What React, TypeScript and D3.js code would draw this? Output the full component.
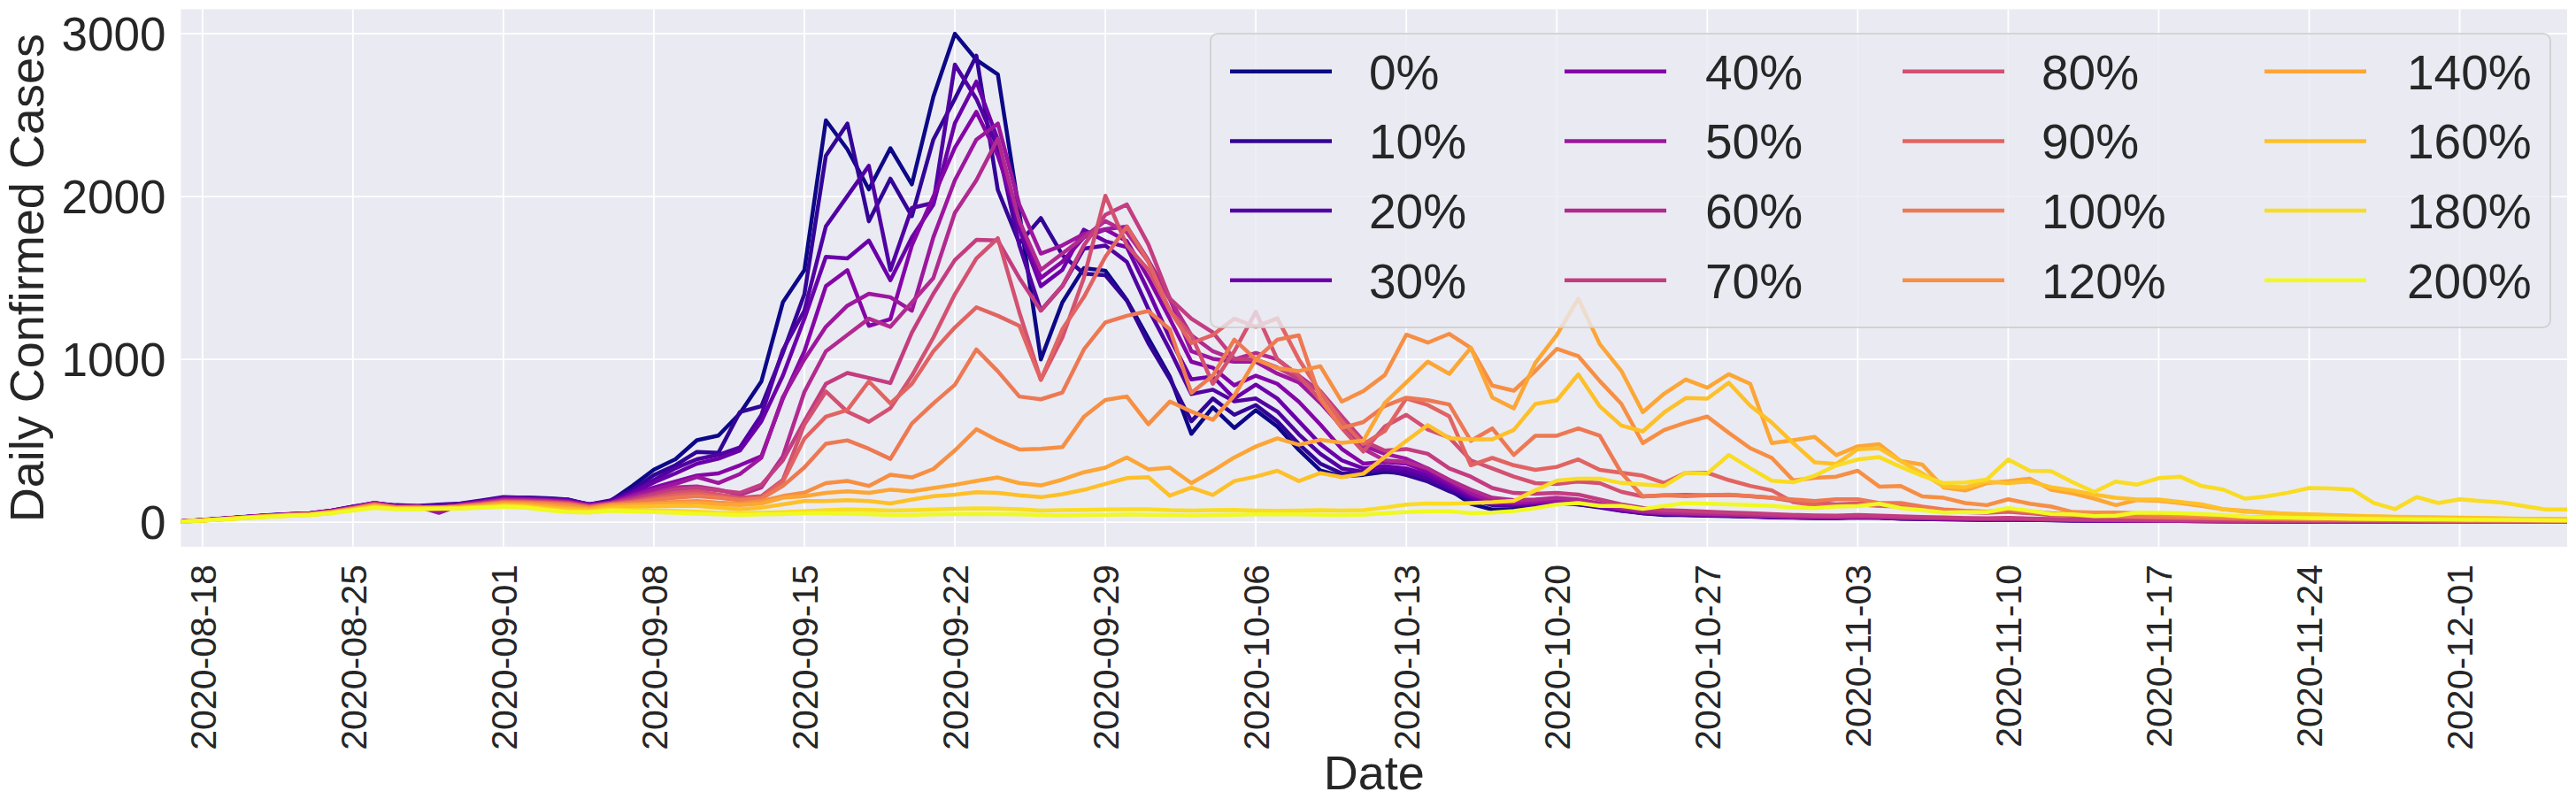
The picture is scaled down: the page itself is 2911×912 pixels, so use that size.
import * as d3 from 'd3';

// weekly date ticks on the x axis
const tickDates = [
  '2020-08-18', '2020-08-25', '2020-09-01', '2020-09-08', '2020-09-15', '2020-09-22',
  '2020-09-29', '2020-10-06', '2020-10-13', '2020-10-20', '2020-10-27', '2020-11-03',
  '2020-11-10', '2020-11-17', '2020-11-24', '2020-12-01',
];
const yTicks = [0, 1000, 2000, 3000];
const labels = ['0%', '10%', '20%', '30%', '40%', '50%', '60%', '70%', '80%', '90%', '100%', '120%', '140%', '160%', '180%', '200%'];

// daily confirmed cases, 2020-08-17 .. 2020-12-06
const s0 = [5,12,22,32,40,46,50,68,92,112, 100,95,105,110,125,150,152,148,140,105, 132,223,323,387,504,532,668,865,1351,1548, 2468,2290,2044,2297,2075,2613,3000,2840,2750,1900, 1000,1350,1560,1545,1365,1130,895,543,706,579, 688,588,444,318,282,291,309,300,264,200, 114,78,80,100,115,110,95,75,55,45, 45,40,38,35,30,28,25,25,30,28, 22,20,18,16,15,17,14,12,10,10, 9,9,8,8,7,6,6,5,5,5, 5,4,4,4,3,3,3,3,3,2, 2,2];
const s10 = [5,13,23,33,42,48,54,70,95,115, 105,100,108,115,135,155,150,145,138,110, 135,200,290,350,432,426,677,713,1040,1400, 2251,2448,1848,2110,1879,2350,2600,2865,2040,1713, 1868,1641,1527,1517,1361,1100,880,620,760,660, 720,620,480,360,300,300,320,290,250,190, 140,105,100,110,120,110,90,70,55,48, 45,42,40,36,32,30,28,27,30,28, 23,21,19,17,16,18,15,13,11,10, 10,9,9,8,7,7,6,6,5,5, 5,5,4,4,4,3,3,3,3,3, 2,2];
const s20 = [5,14,24,34,43,50,56,72,96,118, 102,98,105,112,130,150,148,142,135,110, 128,187,260,332,387,414,459,659,1058,1300, 1817,2003,2189,1548,1930,1961,2810,2600,2300,1700, 1300,1450,1680,1699,1599,1310,1058,787,814,742, 760,680,540,420,330,310,330,310,270,210, 150,110,105,112,125,115,95,72,58,50, 46,43,40,37,33,30,29,28,31,28, 24,22,20,18,16,18,15,13,12,11, 10,10,9,8,8,7,7,6,6,5, 5,5,5,4,4,4,3,3,3,3, 3,2];
const s30 = [5,13,23,33,42,49,55,70,94,116, 100,97,103,110,128,148,146,140,134,108, 125,180,245,300,360,390,440,620,900,1250, 1630,1620,1730,1486,1750,1950,2450,2706,2350,1800, 1450,1550,1796,1726,1690,1419,1130,877,895,760, 845,760,620,480,380,330,345,330,290,225, 160,115,110,118,128,118,98,75,60,52, 48,45,42,38,34,31,30,29,32,29, 25,23,21,19,17,19,16,14,12,11, 10,10,9,9,8,7,7,6,6,6, 5,5,5,4,4,4,4,3,3,3, 3,3];
const s40 = [5,13,23,32,41,48,54,70,92,120, 98,100,70,108,125,145,143,138,130,105, 122,170,214,250,287,300,350,405,759,1050, 1450,1548,1206,1248,1700,2000,2300,2520,2250,1850, 1500,1600,1750,1798,1726,1500,1250,986,949,841, 900,850,740,600,450,360,370,360,310,240, 170,120,115,122,132,122,100,78,62,54, 50,46,43,39,35,32,31,30,33,30, 26,24,22,20,18,20,17,15,13,12, 11,10,10,9,8,8,7,7,6,6, 6,5,5,5,4,4,4,4,3,3, 3,3];
const s50 = [5,13,22,31,40,47,53,68,90,118, 96,98,58,106,122,140,138,134,126,102, 120,160,200,235,278,241,296,396,768,1000, 1200,1330,1403,1382,1299,1750,2100,2350,2448,1950, 1650,1700,1770,1800,1816,1608,1374,1050,1004,986, 986,913,859,733,588,470,420,390,330,255, 180,130,120,128,138,128,105,82,65,56, 52,48,45,41,37,34,32,31,34,31, 27,25,23,21,19,21,18,16,14,13, 12,11,10,10,9,8,8,7,7,6, 6,6,5,5,5,4,4,4,4,3, 3,3];
const s60 = [5,12,22,31,40,47,52,66,88,115, 95,96,80,104,118,135,134,130,122,100, 118,150,180,214,220,200,169,214,405,800, 1050,1150,1250,1200,1350,1500,1900,2100,2355,1850, 1550,1650,1750,1850,1780,1600,1370,1148,1050,1000, 1040,1000,900,800,620,450,380,370,330,260, 200,150,135,140,150,140,115,90,72,62, 58,53,50,45,41,37,35,34,37,34, 30,27,25,23,21,23,20,17,15,14, 13,12,11,10,10,9,8,8,7,7, 6,6,6,5,5,5,4,4,4,4, 3,3];
const s70 = [5,12,21,30,39,46,52,66,88,112, 94,95,85,102,115,132,130,126,118,98, 115,140,170,200,210,195,180,230,380,620, 850,917,886,855,1165,1403,1610,1734,1730,1500, 1300,1450,1700,1888,1951,1707,1374,1250,1166,1004, 1000,950,880,805,650,500,440,450,420,330, 280,210,180,175,180,170,140,110,88,75, 70,65,60,55,50,45,42,40,44,40, 36,32,29,26,24,27,23,20,18,16, 15,14,13,12,11,10,9,9,8,8, 7,7,6,6,6,5,5,5,4,4, 4,4];
const s80 = [5,12,21,30,38,45,50,64,86,110, 92,93,88,100,112,128,126,122,115,95, 112,130,155,180,190,170,150,160,260,600, 803,679,617,700,900,1134,1400,1620,1744,1289, 875,1134,1500,2005,1700,1550,1300,1150,850,1050, 1292,1000,900,750,579,434,588,660,570,520, 380,330,280,240,235,250,240,187,159,165, 168,165,168,160,150,130,120,110,115,108, 95,80,70,62,58,65,55,45,40,36, 33,30,28,26,24,22,20,18,16,15, 14,13,12,11,10,9,8,8,7,7, 6,6];
const s90 = [5,12,21,29,38,45,50,64,85,108, 92,92,90,98,110,125,123,118,112,92, 110,125,145,165,175,160,140,150,250,513, 648,689,865,730,850,1050,1196,1320,1268,1206, 875,1185,1382,1630,1816,1600,1300,1100,1150,1250, 1200,1253,1000,800,620,480,560,760,720,650, 350,395,350,322,340,386,322,304,286,241, 304,304,259,223,196,123,105,100,110,100, 98,85,75,68,62,70,60,50,44,40, 36,33,30,28,26,24,22,20,18,17, 16,15,14,13,12,11,10,9,8,8, 7,7];
const s100 = [5,12,20,29,37,44,50,63,84,106, 90,90,92,96,108,122,120,115,108,90, 108,120,135,150,160,150,135,145,223,337, 482,503,451,389,606,730,844,1061,927,772, 755,797,1061,1227,1268,1297,1184,795,900,1121, 1000,1121,1148,759,579,615,714,765,750,723, 500,576,413,531,531,576,531,304,159,165, 160,165,170,160,150,140,130,141,141,118, 118,96,78,70,65,78,66,55,48,42, 38,35,32,30,28,26,24,22,20,18, 17,16,15,14,13,12,11,10,9,9, 8,8];
const s120 = [4,11,20,28,36,43,48,62,82,104, 88,88,90,95,105,118,115,110,100,85, 104,110,118,125,130,120,114,130,161,182, 240,254,223,292,275,327,441,571,503,447, 451,461,648,751,772,602,741,680,629,778, 1000,946,928,958,741,805,904,1152,1103,1157, 1071,839,808,929,1065,1020,867,728,486,567, 612,649,549,455,395,257,273,280,316,219, 222,159,150,118,105,141,114,96,63,60, 60,55,50,45,40,36,33,30,28,26, 24,22,20,19,18,17,16,15,14,13, 12,12];
const s140 = [4,11,19,28,36,42,48,60,80,100, 86,86,88,92,100,112,108,100,90,80, 100,105,110,115,118,110,105,115,150,160, 180,190,180,200,190,210,230,254,275,240, 226,262,307,335,398,325,335,240,316,398, 465,515,476,506,488,501,732,859,986,911, 1071,766,699,978,1150,1373,1094,930,676,790, 877,826,909,850,486,504,524,412,466,479, 376,354,213,195,240,253,268,199,177,145, 105,136,132,118,100,80,70,60,52,46, 42,38,35,32,30,28,26,24,22,20, 19,18];
const s160 = [4,11,19,27,35,41,46,58,78,96, 84,84,85,88,95,105,100,90,80,72, 90,95,98,100,100,90,80,90,110,130, 130,135,130,115,140,160,170,185,180,165, 154,172,199,235,271,277,163,212,168,253, 280,316,253,302,277,298,400,500,597,516, 509,509,567,726,748,908,712,594,558,675, 763,759,857,716,612,486,368,358,448,455, 376,300,220,215,250,240,250,215,195,170, 150,140,140,125,110,80,65,58,52,48, 44,40,37,34,32,30,28,26,24,22, 21,20];
const s180 = [4,10,18,26,34,40,45,56,75,92, 82,82,84,86,92,100,95,80,68,66, 78,75,72,70,65,58,55,58,62,68, 75,78,76,72,74,78,82,85,84,80, 72,74,76,78,80,80,74,72,74,76, 72,70,72,74,72,74,90,108,115,114, 118,123,132,196,255,268,268,241,232,223, 304,299,413,332,255,245,286,349,385,400, 340,286,240,244,262,385,316,313,246,186, 250,231,271,280,222,201,145,159,181,210, 208,201,119,81,155,118,141,130,121,99, 78,78];
const s200 = [4,10,18,26,33,39,44,55,72,88, 80,80,82,84,90,95,90,75,62,60, 70,66,62,58,52,48,45,48,50,55, 55,52,50,45,45,48,50,52,50,48, 45,42,44,46,48,46,44,42,44,46, 48,50,48,46,45,46,55,62,67,68, 56,60,69,87,109,118,100,100,82,100, 118,114,110,105,100,90,87,96,99,114, 87,75,60,62,62,87,70,51,48,38, 40,60,58,55,50,45,33,30,28,26, 24,22,20,19,18,17,16,15,14,13, 12,11];

const series = [s0, s10, s20, s30, s40, s50, s60, s70, s80, s90, s100, s120, s140, s160, s180, s200];

const W = 2911;
const H = 912;
const FONT = '"Liberation Sans", Arial, sans-serif';
const INK = '#262626';

export default function App() {
  const left = 204.5, right = 2901, top = 10.5, bottom = 617.8;

  const start = new Date(Date.UTC(2020, 7, 17));
  const days = d3.utcDay.range(start, d3.utcDay.offset(start, s0.length));
  const parse = d3.utcParse('%Y-%m-%d');

  const x = d3.scaleUtc().domain([days[0], days[days.length - 1]]).range([left, right]);
  const y = d3.scaleLinear().domain([-150, 3150]).range([bottom, top]);
  const color = (i: number) => d3.interpolatePlasma(i / (labels.length - 1));

  const line = d3.line<number>()
    .x((_, i) => x(days[i]))
    .y(d => y(d));

  // legend layout (4 rows, column-major)
  const legX = 1368, legY = 38, legW = 1514, legH = 332;
  const colLine = [1390, 1768, 2150, 2559];
  const colText = [1547, 1927, 2307, 2720];
  const rowY = [80.7, 159.4, 238.1, 316.8];

  return (
    <svg width={W} height={H} style={{ position: 'absolute', left: 0, top: 0, background: '#fff' }}
      fontFamily={FONT}>
      <defs>
        <clipPath id="plot">
          <rect x={left} y={top} width={right - left} height={bottom - top} />
        </clipPath>
      </defs>
      <rect x={left} y={top} width={right - left} height={bottom - top} fill="#eaeaf2" />

      {/* grid */}
      {yTicks.map(t => (
        <line key={'gy' + t} x1={left} x2={right} y1={y(t)} y2={y(t)} stroke="#fff" strokeWidth={1.8} />
      ))}
      {tickDates.map(t => (
        <line key={'gx' + t} x1={x(parse(t)!)} x2={x(parse(t)!)} y1={top} y2={bottom} stroke="#fff" strokeWidth={1.8} />
      ))}

      {/* series */}
      <g clipPath="url(#plot)">
        {series.map((s, i) => (
          <path key={labels[i]} d={line(s) ?? ''} fill="none" stroke={color(i)} strokeWidth={4.5}
            strokeLinejoin="round" strokeLinecap="square" />
        ))}
      </g>

      {/* y axis */}
      {yTicks.map(t => (
        <text key={'ty' + t} x={187.5} y={y(t)} dy="0.36em" textAnchor="end" fontSize={53} fill={INK}>{t}</text>
      ))}
      <text transform={`translate(49,${(top + bottom) / 2}) rotate(-90)`} textAnchor="middle" fontSize={54} fill={INK}>
        Daily Confirmed Cases
      </text>

      {/* x axis */}
      {tickDates.map(t => (
        <text key={'tx' + t} transform={`translate(${x(parse(t)!)},638) rotate(-90)`} dy="0.36em"
          textAnchor="end" fontSize={41} fill={INK}>{t}</text>
      ))}
      <text x={(left + right) / 2} y={891.7} textAnchor="middle" fontSize={54} fill={INK}>Date</text>

      {/* legend */}
      <rect x={legX} y={legY} width={legW} height={legH} rx={8} fill="#eaeaf2" fillOpacity={0.8}
        stroke="#cccccc" strokeOpacity={0.8} strokeWidth={2} />
      {labels.map((lab, i) => {
        const c = Math.floor(i / 4), r = i % 4;
        return (
          <g key={'lg' + lab}>
            <line x1={colLine[c]} x2={colLine[c] + 115} y1={rowY[r]} y2={rowY[r]} stroke={color(i)} strokeWidth={4.5} />
            <text x={colText[c]} y={rowY[r]} dy="0.36em" fontSize={55} fill={INK}>{lab}</text>
          </g>
        );
      })}
    </svg>
  );
}
